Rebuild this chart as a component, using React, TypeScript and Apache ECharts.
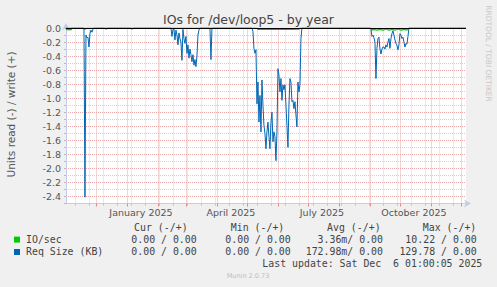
import React, { useEffect, useRef } from "react";
import * as echarts from "echarts";

const X_MIN = "2024-11-01 01:00:05";
const X_MAX = "2025-12-06 01:00:05";
const Y_MIN = -2.5;
const Y_MAX = 0;
const Y_STEP = 0.1;

const TITLE = "IOs for /dev/loop5 - by year";
const Y_NAME = "Units read (-) / write (+)";
const WATERMARK = "RRDTOOL / TOBI OETIKER";
const LAST_UPDATE = "Last update: Sat Dec \u00A06 01:00:05 2025";
const FOOTER = "Munin 2.0.73";

const monthLabelDates = ["2025-01-15", "2025-04-15", "2025-07-15", "2025-10-15"];
const monthLabelTexts = ["January 2025", "April 2025", "July 2025", "October 2025"];

const monthLines = [
  "2024-12-01", "2025-01-01", "2025-02-01", "2025-03-01", "2025-04-01", "2025-05-01",
  "2025-06-01", "2025-07-01", "2025-08-01", "2025-09-01", "2025-10-01", "2025-11-01", "2025-12-01",
];
const minorLines = [
  "2024-11-10", "2024-11-24", "2024-12-08", "2024-12-22", "2025-01-05", "2025-01-19",
  "2025-02-02", "2025-02-16", "2025-03-02", "2025-03-16", "2025-03-30", "2025-04-13",
  "2025-04-27", "2025-05-11", "2025-05-25", "2025-06-08", "2025-06-22", "2025-07-06",
  "2025-07-20", "2025-08-03", "2025-08-17", "2025-08-31", "2025-09-14", "2025-09-28",
  "2025-10-12", "2025-10-26", "2025-11-09", "2025-11-23",
];

const ioSecRead: [string, number][] = [
  ["2024-11-01", 0], ["2024-11-02", -0.03], ["2024-11-03", -0.01], ["2024-11-04", -0.03],
  ["2024-11-05", -0.01], ["2024-11-06", -0.03], ["2024-11-07", 0],
  ["2024-11-19", 0], ["2024-11-20", -0.02], ["2024-11-21", 0],
  ["2025-05-11", 0], ["2025-05-12", -0.02], ["2025-05-20", -0.015], ["2025-05-28", -0.02],
  ["2025-06-05", -0.015], ["2025-06-13", -0.02], ["2025-06-22", -0.015], ["2025-06-23", 0],
  ["2025-09-02", 0], ["2025-09-03", -0.03], ["2025-09-05", -0.02], ["2025-09-08", -0.03],
  ["2025-09-11", -0.02], ["2025-09-14", -0.03], ["2025-09-17", -0.015], ["2025-09-20", -0.03],
  ["2025-09-23", -0.02], ["2025-09-26", -0.03], ["2025-09-29", -0.015], ["2025-10-02", -0.03],
  ["2025-10-05", -0.02], ["2025-10-08", -0.03], ["2025-10-10", 0],
  ["2025-12-06", 0],
];

const reqSizeRead: [string, number][] = [
  ["2024-11-01", 0], ["2024-11-19", 0], ["2024-11-20", -2.41], ["2024-11-21", -0.1],
  ["2024-11-22", -0.14], ["2024-11-23", -0.13], ["2024-11-24", -0.27], ["2024-11-25", -0.08],
  ["2024-11-26", -0.03], ["2024-11-27", -0.06], ["2024-11-28", -0.02], ["2024-11-29", 0],
  ["2024-12-10", 0], ["2024-12-11", -0.02], ["2024-12-12", 0],
  ["2025-01-05", 0], ["2025-01-06", -0.02], ["2025-01-07", 0],
  ["2025-02-14", 0], ["2025-02-15", -0.12], ["2025-02-16", -0.02], ["2025-02-17", -0.01],
  ["2025-02-18", -0.17], ["2025-02-19", -0.03], ["2025-02-20", -0.1], ["2025-02-21", -0.24],
  ["2025-02-22", -0.07], ["2025-02-23", -0.15], ["2025-02-24", -0.2], ["2025-02-25", -0.46],
  ["2025-02-26", -0.02], ["2025-02-27", -0.15], ["2025-02-28", -0.22], ["2025-03-01", -0.12],
  ["2025-03-02", -0.36], ["2025-03-03", -0.24], ["2025-03-04", -0.43], ["2025-03-05", -0.3],
  ["2025-03-06", -0.38], ["2025-03-07", -0.48], ["2025-03-08", -0.38], ["2025-03-09", -0.53],
  ["2025-03-10", -0.45], ["2025-03-11", -0.55], ["2025-03-12", -0.4], ["2025-03-13", -0.1],
  ["2025-03-14", -0.03], ["2025-03-15", 0],
  ["2025-03-25", 0], ["2025-03-26", -0.45], ["2025-03-27", 0],
  ["2025-05-06", 0], ["2025-05-07", -0.05], ["2025-05-08", -0.29], ["2025-05-09", -0.36],
  ["2025-05-10", -0.31], ["2025-05-11", -1.08], ["2025-05-12", -0.77], ["2025-05-13", -1.34],
  ["2025-05-14", -0.96], ["2025-05-15", -1.48], ["2025-05-16", -0.74], ["2025-05-17", -1.1],
  ["2025-05-18", -1.39], ["2025-05-19", -1.5], ["2025-05-20", -1.72], ["2025-05-21", -1.48],
  ["2025-05-22", -1.34], ["2025-05-23", -1.55], ["2025-05-24", -1.72], ["2025-05-25", -1.34],
  ["2025-05-26", -1.2], ["2025-05-27", -1.62], ["2025-05-28", -1.48], ["2025-05-29", -1.55],
  ["2025-05-30", -1.89], ["2025-05-31", -1.48], ["2025-06-01", -0.58], ["2025-06-02", -0.67],
  ["2025-06-03", -0.91], ["2025-06-04", -0.72], ["2025-06-05", -1.03], ["2025-06-06", -0.81],
  ["2025-06-07", -0.88], ["2025-06-08", -0.81], ["2025-06-09", -1.1], ["2025-06-10", -1.39],
  ["2025-06-11", -1.7], ["2025-06-12", -1.1], ["2025-06-13", -0.72], ["2025-06-14", -0.77],
  ["2025-06-15", -1.05], ["2025-06-16", -1.03], ["2025-06-17", -1.15], ["2025-06-18", -1.05],
  ["2025-06-19", -1.24], ["2025-06-20", -1.41], ["2025-06-21", -0.77], ["2025-06-22", -0.91],
  ["2025-06-23", -0.81], ["2025-06-24", -0.15], ["2025-06-25", 0],
  ["2025-09-01", 0], ["2025-09-02", -0.02], ["2025-09-03", -0.12], ["2025-09-04", -0.1],
  ["2025-09-05", -0.14], ["2025-09-06", -0.2], ["2025-09-07", -0.72], ["2025-09-08", -0.29],
  ["2025-09-09", -0.15], ["2025-09-10", -0.13], ["2025-09-11", -0.3], ["2025-09-12", -0.37],
  ["2025-09-13", -0.3], ["2025-09-14", -0.27], ["2025-09-15", -0.27], ["2025-09-16", -0.3],
  ["2025-09-17", -0.24], ["2025-09-18", -0.27], ["2025-09-19", -0.2], ["2025-09-20", -0.15],
  ["2025-09-21", -0.29], ["2025-09-22", -0.15], ["2025-09-23", -0.08], ["2025-09-24", -0.04],
  ["2025-09-25", -0.1], ["2025-09-26", -0.17], ["2025-09-27", -0.22], ["2025-09-28", -0.25],
  ["2025-09-29", -0.31], ["2025-09-30", -0.24], ["2025-10-01", -0.08], ["2025-10-02", -0.1],
  ["2025-10-03", -0.15], ["2025-10-04", -0.13], ["2025-10-05", -0.2], ["2025-10-06", -0.27],
  ["2025-10-07", -0.22], ["2025-10-08", -0.23], ["2025-10-09", -0.12], ["2025-10-10", 0],
  ["2025-12-06", 0],
];

const legendHeaders = ["Cur (-/+)", "Min (-/+)", "Avg (-/+)", "Max (-/+)"];
const seriesNames = ["IO/sec", "Req Size (KB)"];
const seriesColors = ["#00CC00", "#0066B3"];
const ioSecStats = ["0.00 / 0.00", "0.00 / 0.00", "3.36m/ 0.00", "10.22 / 0.00"];
const reqSizeStats = ["0.00 / 0.00", "0.00 / 0.00", "172.98m/ 0.00", "129.78 / 0.00"];

const MONO = "'DejaVu Sans Mono', monospace";
const SANS = "'DejaVu Sans', sans-serif";

const ts = (s: string) => +echarts.time.parse(s);

export default function App() {
  const ref = useRef<HTMLDivElement>(null);

  useEffect(() => {
    if (!ref.current) return;
    const chart = echarts.init(ref.current, undefined, { renderer: "svg" });

    const labelTs = monthLabelDates.map(ts);
    const headerRight = [187.6, 284.3, 380.6, 476.3];
    const valueRight = [196.7, 290.7, 383, 476.7];
    const rowsY = [239.3, 251.7];
    const statsRows = [ioSecStats, reqSizeStats];

    const graphic: any[] = [
      {
        type: "text", x: 248.5, y: 19,
        style: { text: TITLE, font: `12.5px ${SANS}`, fill: "#444", align: "center", verticalAlign: "middle" },
      },
      {
        type: "text", x: 488, y: 53.5, rotation: -Math.PI / 2,
        style: { text: WATERMARK, font: `7.5px ${SANS}`, fill: "#C8C8C8", align: "center", verticalAlign: "middle" },
      },
      {
        type: "text", x: 11, y: 114.5, rotation: Math.PI / 2,
        style: { text: Y_NAME, font: `10.5px ${SANS}`, fill: "#555", align: "center", verticalAlign: "middle" },
      },
      {
        type: "text", x: 482.3, y: 263.5,
        style: { text: LAST_UPDATE, font: `9.9px ${MONO}`, fill: "#444", align: "right", verticalAlign: "middle" },
      },
      {
        type: "text", x: 248, y: 276,
        style: { text: FOOTER, font: `6.5px ${SANS}`, fill: "#BDBDBD", align: "center", verticalAlign: "middle" },
      },
    ];
    legendHeaders.forEach((h, i) => {
      graphic.push({
        type: "text", x: headerRight[i], y: 227.3,
        style: { text: h, font: `9.9px ${MONO}`, fill: "#444", align: "right", verticalAlign: "middle" },
      });
    });
    seriesNames.forEach((name, r) => {
      graphic.push({
        type: "rect", shape: { x: 14, y: rowsY[r] - 2.7, width: 6, height: 6 },
        style: { fill: seriesColors[r] },
      });
      graphic.push({
        type: "text", x: 26, y: rowsY[r],
        style: { text: name, font: `9.9px ${MONO}`, fill: "#444", align: "left", verticalAlign: "middle" },
      });
      statsRows[r].forEach((v, i) => {
        graphic.push({
          type: "text", x: valueRight[i], y: rowsY[r],
          style: { text: v, font: `9.9px ${MONO}`, fill: "#444", align: "right", verticalAlign: "middle" },
        });
      });
    });

    const vGrid = [
      ...minorLines.map((d) => ({ xAxis: ts(d), lineStyle: { color: "#D2D2D2", type: [1, 1], width: 1 } })),
      ...monthLines.map((d) => ({ xAxis: ts(d), lineStyle: { color: "#EBA8A8", type: [1, 1], width: 1 } })),
    ];

    const toPts = (arr: [string, number][]) => arr.map(([d, v]) => [ts(d), v]);

    const option: any = {
      animation: false,
      backgroundColor: "#F0F0F0",
      textStyle: { fontFamily: SANS },
      grid: {
        left: 66, top: 28, width: 400, height: 175.5,
        show: true, backgroundColor: "#FFFFFF", borderWidth: 0,
      },
      xAxis: [
        {
          type: "value",
          min: ts(X_MIN),
          max: ts(X_MAX),
          axisLine: {
            show: true, onZero: false,
            lineStyle: { color: "#C8CAEC", width: 1 },
            symbol: ["none", "arrow"], symbolSize: [6, 7], symbolOffset: [0, 5],
          },
          axisTick: {
            show: true, customValues: minorLines.map(ts), length: 2,
            lineStyle: { color: "#BBBBBB" },
          },
          axisLabel: {
            show: true, customValues: labelTs,
            formatter: (v: number) => {
              const idx = labelTs.indexOf(v);
              return idx >= 0 ? monthLabelTexts[idx] : "";
            },
            color: "#555", fontSize: 9.5, fontFamily: SANS, margin: 4,
          },
          splitLine: { show: false },
        },
        {
          type: "value",
          position: "bottom",
          min: ts(X_MIN),
          max: ts(X_MAX),
          axisLine: { show: false, onZero: false },
          axisTick: {
            show: true, customValues: monthLines.map(ts), length: 3,
            lineStyle: { color: "#E08A8A" },
          },
          axisLabel: { show: false },
          splitLine: { show: false },
        },
      ],
      yAxis: {
        type: "value",
        min: Y_MIN,
        max: Y_MAX,
        interval: Y_STEP,
        axisLine: {
          show: true, onZero: false,
          lineStyle: { color: "#C8CAEC", width: 1 },
          symbol: ["none", "arrow"], symbolSize: [6, 7], symbolOffset: [0, 5],
        },
        axisTick: { show: true, length: 2, lineStyle: { color: "#BBBBBB" } },
        axisLabel: {
          formatter: (v: number) => (Math.round(v * 10) % 2 === 0 ? v.toFixed(1) : ""),
          color: "#555", fontSize: 9.5, fontFamily: SANS, margin: 5,
        },
        splitLine: {
          show: true,
          lineStyle: { color: ["#D2D2D2", "#EBA8A8"], type: [1, 1], width: 1 },
        },
      },
      series: [
        {
          name: seriesNames[0],
          type: "line",
          data: toPts(ioSecRead),
          showSymbol: false,
          symbol: "none",
          lineStyle: { color: seriesColors[0], width: 1.2 },
          z: 2,
          markLine: {
            z: 1, silent: true, symbol: ["none", "none"], label: { show: false },
            emphasis: { disabled: true }, animation: false,
            data: vGrid,
          },
        },
        {
          name: seriesNames[1],
          type: "line",
          data: toPts(reqSizeRead),
          showSymbol: false,
          symbol: "none",
          lineStyle: { color: seriesColors[1], width: 1 },
          z: 3,
          markLine: {
            z: 10, silent: true, symbol: ["none", "none"], label: { show: false },
            emphasis: { disabled: true }, animation: false,
            data: [{ yAxis: 0, lineStyle: { color: "#000000", type: "solid", width: 1 } }],
          },
        },
      ],
      graphic,
    };

    chart.setOption(option);
    return () => chart.dispose();
  }, []);

  return (
    <div
      ref={ref}
      style={{ position: "fixed", left: 0, top: 0, width: 497, height: 287 }}
    />
  );
}
